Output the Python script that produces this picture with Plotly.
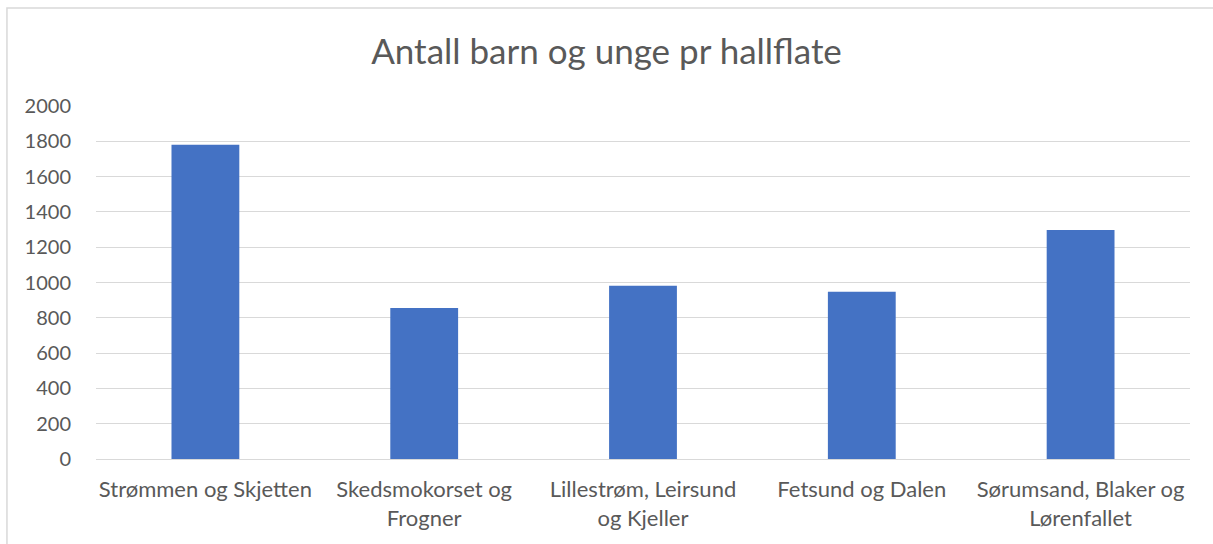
import plotly.graph_objects as go

categories = ["Strømmen og Skjetten", "Skedsmokorset og<br>Frogner", "Lillestrøm, Leirsund<br>og Kjeller",
              "Fetsund og Dalen", "Sørumsand, Blaker og<br>Lørenfallet"]
values = [1780, 855, 982, 947, 1297]
tick_vals = [0, 200, 400, 600, 800, 1000, 1200, 1400, 1600, 1800, 2000]

fig = go.Figure(go.Bar(x=categories, y=values, marker=dict(color="#4472C4", line=dict(width=0))))

fig.update_layout(
    width=1213, height=544,
    paper_bgcolor="white", plot_bgcolor="white",
    margin=dict(l=96, r=23, t=106, b=85),
    bargap=0.69,
    font=dict(family="Lato, Open Sans, sans-serif", color="#595959", size=20),
    title=dict(text="Antall barn og unge pr hallflate", x=0.5, xanchor="center", y=0.904, yanchor="middle",
               font=dict(size=35, color="#595959")),
    showlegend=False,
    shapes=[dict(type="rect", xref="paper", yref="paper", x0=-0.0814, x1=1.03, y0=-0.3, y1=1.2776,
                 line=dict(color="#D9D9D9", width=1.5), fillcolor="rgba(0,0,0,0)")],
)
fig.update_xaxes(showgrid=False, showline=True, linecolor="#D9D9D9", linewidth=1,
                 ticks="outside", tickcolor="rgba(0,0,0,0)", ticklen=11,
                 tickfont=dict(size=22, color="#595959"))
fig.update_yaxes(range=[0, 2000], tickvals=tick_vals, showgrid=True, gridcolor="#D9D9D9", gridwidth=1,
                 zeroline=False, showline=False, ticks="outside", tickcolor="rgba(0,0,0,0)", ticklen=20,
                 tickfont=dict(size=20, color="#595959"))

fig.write_html("out.html", config={"displayModeBar": False},
               post_script="document.body.style.margin='0';")
